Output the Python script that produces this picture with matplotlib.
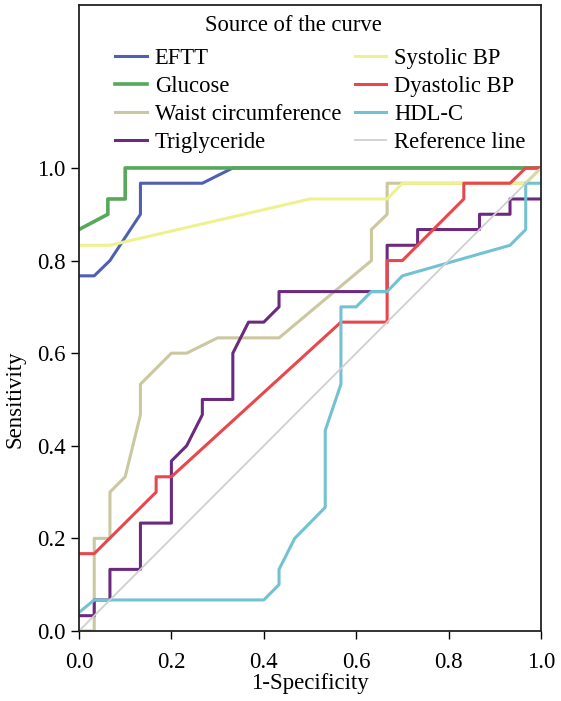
import matplotlib
matplotlib.use('Agg')
import matplotlib.pyplot as plt

plt.rcParams['font.family'] = ['Liberation Serif', 'DejaVu Serif']

# ROC curves (1-specificity, sensitivity)
eftt_x = [0, 0.033, 0.067, 0.133, 0.133, 0.267, 0.333, 1.0]
eftt_y = [0.767, 0.767, 0.8, 0.9, 0.967, 0.967, 1.0, 1.0]

glucose_x = [0, 0.0625, 0.0625, 0.1, 0.1, 1.0]
glucose_y = [0.867, 0.9, 0.933, 0.933, 1.0, 1.0]

waist_x = [0, 0.033, 0.033, 0.067, 0.067, 0.1, 0.133, 0.133, 0.2, 0.233, 0.3, 0.433,
           0.633, 0.633, 0.667, 0.667, 0.7, 0.967, 1.0]
waist_y = [0, 0, 0.2, 0.2, 0.3, 0.333, 0.467, 0.533, 0.6, 0.6, 0.633, 0.633,
           0.8, 0.867, 0.9, 0.967, 0.967, 0.967, 1.0]

trig_x = [0, 0.033, 0.033, 0.067, 0.067, 0.133, 0.133, 0.2, 0.2, 0.233, 0.267, 0.267,
          0.333, 0.333, 0.367, 0.4, 0.433, 0.433, 0.667, 0.667, 0.733, 0.733,
          0.867, 0.867, 0.933, 0.933, 1.0]
trig_y = [0.033, 0.033, 0.067, 0.067, 0.133, 0.133, 0.233, 0.233, 0.367, 0.4, 0.467, 0.5,
          0.5, 0.6, 0.667, 0.667, 0.7, 0.733, 0.733, 0.833, 0.833, 0.867,
          0.867, 0.9, 0.9, 0.933, 0.933]

systolic_x = [0, 0.067, 0.5, 0.667, 0.7, 0.967, 1.0]
systolic_y = [0.833, 0.833, 0.933, 0.933, 0.967, 0.967, 1.0]

diastolic_x = [0, 0.033, 0.167, 0.167, 0.2, 0.567, 0.667, 0.667, 0.7, 0.833, 0.833,
               0.933, 0.967, 1.0]
diastolic_y = [0.167, 0.167, 0.3, 0.333, 0.333, 0.667, 0.667, 0.8, 0.8, 0.933, 0.967,
               0.967, 1.0, 1.0]

hdl_x = [0, 0.033, 0.4, 0.433, 0.433, 0.467, 0.533, 0.533, 0.567, 0.567, 0.6, 0.633,
         0.667, 0.7, 0.933, 0.967, 0.967, 1.0]
hdl_y = [0.04, 0.067, 0.067, 0.1, 0.133, 0.2, 0.267, 0.433, 0.533, 0.7, 0.7, 0.733,
         0.733, 0.767, 0.833, 0.867, 0.967, 0.967]

ref_x = [0, 1]
ref_y = [0, 1]

ticks = [0.0, 0.2, 0.4, 0.6, 0.8, 1.0]

fig = plt.figure(figsize=(5.61, 7.01), dpi=100)
ax = fig.add_axes([0.1408, 0.0999, 0.8235, 0.893])

lw = 2.2
h_eftt, = ax.plot(eftt_x, eftt_y, color='#4f5fb2', lw=lw, label='EFTT')
h_glu, = ax.plot(glucose_x, glucose_y, color='#56a85a', lw=lw + 0.4, label='Glucose')
h_waist, = ax.plot(waist_x, waist_y, color='#cbc79f', lw=lw, label='Waist circumference')
h_trig, = ax.plot(trig_x, trig_y, color='#6b2a7e', lw=lw, label='Triglyceride')
h_sys, = ax.plot(systolic_x, systolic_y, color='#eef28e', lw=lw, label='Systolic BP')
h_dia, = ax.plot(diastolic_x, diastolic_y, color='#e8474b', lw=lw, label='Dyastolic BP')
h_hdl, = ax.plot(hdl_x, hdl_y, color='#72c2d2', lw=lw, label='HDL-C')
h_ref, = ax.plot(ref_x, ref_y, color='#cfcfcf', lw=1.3, label='Reference line')

ax.set_xlim(0, 1)
ax.set_ylim(0, 1.352)
ax.set_xticks(ticks)
ax.set_yticks(ticks)
ax.tick_params(labelsize=16.5, length=6, width=1, direction='out')
ax.tick_params(axis='x', pad=9)
for s in ax.spines.values():
    s.set_color('#222222')
    s.set_linewidth(1.3)

ax.set_xlabel('1-Specificity', fontsize=16.5, labelpad=0)
ax.set_ylabel('Sensitivity', fontsize=16.5)
ax.yaxis.set_label_coords(-0.115, 0.5 / 1.352)

ax.text(0.465, 0.984, 'Source of the curve', transform=ax.transAxes,
        ha='center', va='top', fontsize=16.3)

leg = ax.legend(
    handles=[h_eftt, h_glu, h_waist, h_trig, h_sys, h_dia, h_hdl, h_ref],
    ncol=2, loc='upper left', bbox_to_anchor=(0.078, 0.932),
    frameon=False, fontsize=16.3, borderpad=0, borderaxespad=0,
    handlelength=1.4, handletextpad=0.35, columnspacing=0.6,
    labelspacing=0.31,
)

fig.savefig('out.png', dpi=100)
